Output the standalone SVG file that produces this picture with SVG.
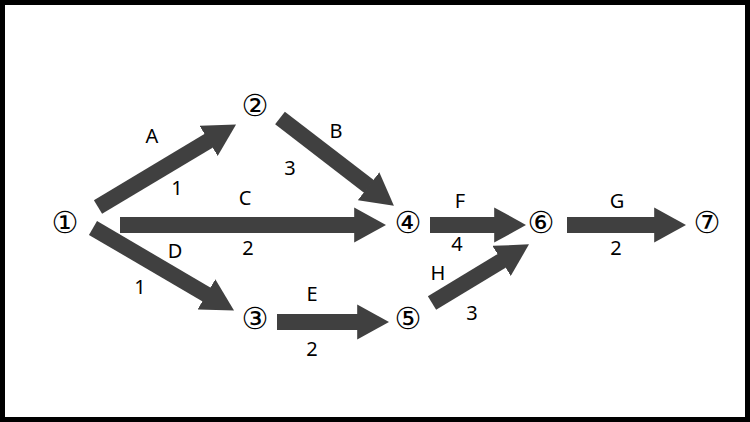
<svg xmlns="http://www.w3.org/2000/svg" width="750" height="422" viewBox="0 0 750 422">
<style>
.n{font-family:"DejaVu Sans","Noto Sans",sans-serif;font-size:30px;text-anchor:middle;dominant-baseline:central;fill:#000}
.l{font-family:"Noto Sans","Open Sans",sans-serif;font-size:20px;text-anchor:middle;dominant-baseline:central;fill:#000}
.a{stroke:#404040;stroke-width:16;fill:none;marker-end:url(#h)}
</style>
<defs>
<marker id="h" viewBox="0 0 2 2.2" refX="0.05" refY="1.1" markerWidth="2" markerHeight="2.2" orient="auto" markerUnits="strokeWidth">
<path d="M0,0 L2,1.1 L0,2.2 z" fill="#404040"/>
</marker>
</defs>
<rect x="2.5" y="2.5" width="745" height="417" fill="#fff" stroke="#000" stroke-width="5"/>
<g id="connectors">
<line class="a" x1="98" y1="207" x2="209.3" y2="140.4"/>
<line class="a" x1="280" y1="118" x2="369.2" y2="186.7"/>
<line class="a" x1="120" y1="225" x2="355" y2="225"/>
<line class="a" x1="93" y1="228" x2="207.1" y2="294.8"/>
<line class="a" x1="277" y1="322" x2="358" y2="322"/>
<line class="a" x1="430" y1="225" x2="495" y2="225"/>
<line class="a" x1="432" y1="303" x2="502.3" y2="260.5"/>
<line class="a" x1="567" y1="225" x2="655" y2="225"/>
<text class="l" x="152" y="135">A</text><text class="l" x="177" y="187">1</text>
<text class="l" x="336" y="130">B</text><text class="l" x="290" y="167">3</text>
<text class="l" x="245" y="197">C</text><text class="l" x="248" y="247">2</text>
<text class="l" x="175" y="250">D</text><text class="l" x="140" y="286">1</text>
<text class="l" x="312" y="293">E</text><text class="l" x="312" y="348">2</text>
<text class="l" x="460" y="200">F</text><text class="l" x="457" y="243">4</text>
<text class="l" x="438" y="272">H</text><text class="l" x="472" y="312">3</text>
<text class="l" x="617" y="200">G</text><text class="l" x="616" y="247">2</text>
</g>
<g id="n1"><text class="n" x="65" y="222">①</text></g>
<g id="n2"><text class="n" x="255" y="105">②</text></g>
<g id="n3"><text class="n" x="255" y="318">③</text></g>
<g id="n4"><text class="n" x="408" y="222">④</text></g>
<g id="n5"><text class="n" x="408" y="318">⑤</text></g>
<g id="n6"><text class="n" x="541" y="222">⑥</text></g>
<g id="n7"><text class="n" x="707" y="222">⑦</text></g>
</svg>
